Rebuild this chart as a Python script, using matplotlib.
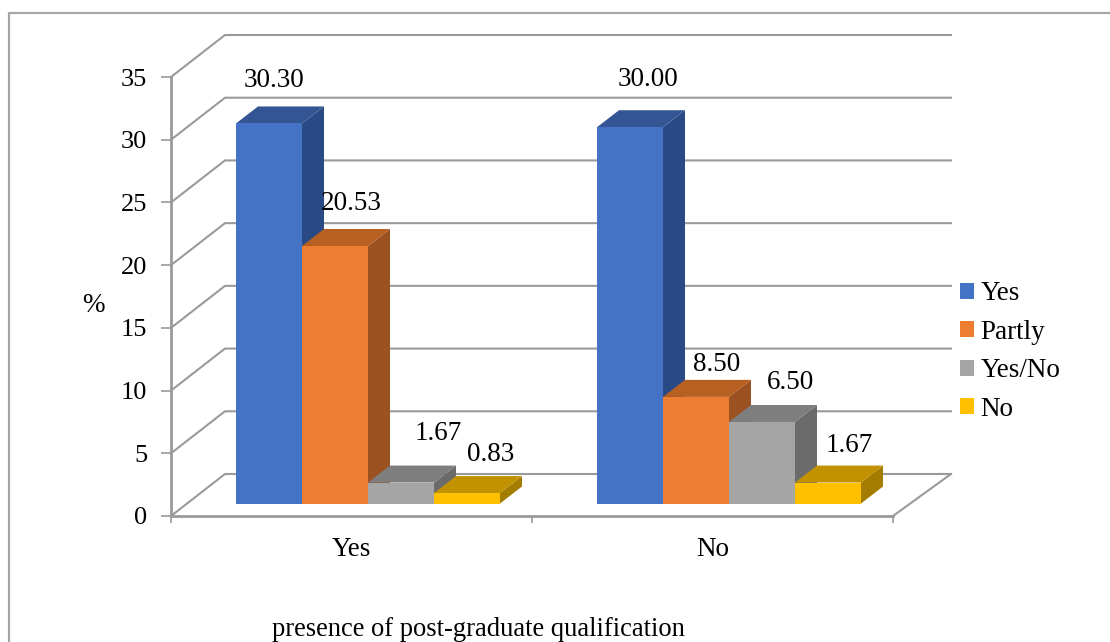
import matplotlib
matplotlib.use("Agg")
import matplotlib.pyplot as plt
from matplotlib.patches import Polygon
from matplotlib.transforms import Affine2D

categories = ["Yes", "No"]
series_names = ["Yes", "Partly", "Yes/No", "No"]
series_values = {
    "Yes": [30.30, 30.00],
    "Partly": [20.53, 8.50],
    "Yes/No": [1.67, 6.50],
    "No": [0.83, 1.67],
}
y_ticks = [0, 5, 10, 15, 20, 25, 30, 35]

front_colors = ["#4472C4", "#ED7D31", "#A5A5A5", "#FFC000"]
top_colors = ["#335593", "#B85F22", "#7E7E7E", "#C29200"]
side_colors = ["#2A4A85", "#9C5220", "#6B6B6B", "#A47C00"]

# Pixel offsets of the oblique projection
WALL_DX, WALL_DY = 54, 42
BAR_DX, BAR_DY = 16.5, 12.5
DEPTH_DX, DEPTH_DY = 22, 17
BAR_W = 66 / 361

# Label offsets from the top-centre of each bar's front face, in pixels
label_offsets = {
    "Yes": [(5, 43), (18, 48)],
    "Partly": [(16, 42), (21, 32)],
    "Yes/No": [(37, 49), (29, 39)],
    "No": [(24, 39), (21, 37)],
}

W, H = 1110, 642
GRID = "#9A9A9A"
FS = 19.5
plt.rcParams["font.family"] = ["Liberation Serif", "DejaVu Serif"]

fig = plt.figure(figsize=(W / 100, H / 100), dpi=100)
ax = fig.add_axes([171 / W, (H - 516) / H, (893 - 171) / W, (516 - 77) / H])
ax.set_xlim(0, 2)
ax.set_ylim(0, 35)
ax.patch.set_alpha(0)


def project(x, v, dx=0.0, dy=0.0):
    px, py = ax.transData.transform((x, v))
    return px + dx, py + dy


# Outer chart frame, running off the left-bottom and top-right of the canvas
fig.add_artist(plt.Line2D([9 / W, 9 / W, 1], [0, (H - 13) / H, (H - 13) / H],
                          color="#A6A6A6", lw=1.6))

# Back wall and side wall gridlines
for t in y_ticks:
    pts = [project(0, t), project(0, t, WALL_DX, WALL_DY), project(2, t, WALL_DX + 4, WALL_DY)]
    ax.plot(*zip(*pts), color=GRID, lw=1.5, transform=None, clip_on=False, zorder=1)
pts = [project(2, 0), project(2, 0, WALL_DX + 4, WALL_DY)]
ax.plot(*zip(*pts), color=GRID, lw=1.5, transform=None, clip_on=False, zorder=1)

for s in ("top", "right"):
    ax.spines[s].set_visible(False)
for s in ("left", "bottom"):
    ax.spines[s].set_color(GRID)
    ax.spines[s].set_linewidth(2)
ax.set_yticks(y_ticks)
ax.set_xticks([0, 1, 2])
ax.set_xticklabels([])
ax.set_xticks([0.5, 1.5], labels=categories, minor=True)
ax.tick_params(axis="y", length=7, width=1.2, color=GRID, labelsize=FS - 0.5, pad=10)
ax.tick_params(axis="x", which="major", length=5, width=1.2, color=GRID)
ax.tick_params(axis="x", which="minor", length=0, labelsize=FS, pad=15)
ax.set_ylabel("%", fontsize=FS, rotation=0, labelpad=0, va="center")
ax.yaxis.set_label_coords((93 - 171) / (893 - 171), (516 - 306) / (516 - 77))
ax.set_xlabel("presence of post-graduate qualification", fontsize=FS - 0.4, va="center")
ax.xaxis.set_label_coords((478 - 171) / (893 - 171), (516 - 629) / (516 - 77))

# Bars: front face through the data scale, depth faces projected from it
bar_shift = ax.transData + Affine2D().translate(BAR_DX, BAR_DY)
z = 3
for cat_i in range(len(categories)):
    for s_i, name in enumerate(series_names):
        v = series_values[name][cat_i]
        x0 = cat_i + 0.5 + (s_i - 2) * BAR_W
        x1 = x0 + BAR_W
        ox, oy = BAR_DX, BAR_DY
        ddx, ddy = ox + DEPTH_DX, oy + DEPTH_DY
        side = [project(x1, 0, ox, oy), project(x1, v, ox, oy),
                project(x1, v, ddx, ddy), project(x1, 0, ddx, ddy)]
        top = [project(x0, v, ox, oy), project(x1, v, ox, oy),
               project(x1, v, ddx, ddy), project(x0, v, ddx, ddy)]
        ax.add_patch(Polygon(side, closed=True, fc=side_colors[s_i], ec="none",
                             transform=None, clip_on=False, zorder=z))
        ax.add_patch(Polygon(top, closed=True, fc=top_colors[s_i], ec="none",
                             transform=None, clip_on=False, zorder=z))
        ax.bar(x0, v, width=BAR_W, align="edge", color=front_colors[s_i],
               transform=bar_shift, clip_on=False, zorder=z + 0.5,
               label=name if cat_i == 0 else None)
        z += 1

# Value labels above the bars
for cat_i in range(len(categories)):
    for s_i, name in enumerate(series_names):
        v = series_values[name][cat_i]
        xc = cat_i + 0.5 + (s_i - 1.5) * BAR_W
        off = label_offsets[name][cat_i]
        px, py = project(xc, v, BAR_DX + off[0], BAR_DY + off[1])
        ax.text(px, py, f"{v:.2f}", transform=None, fontsize=FS, ha="center",
                va="center", color="black", clip_on=False, zorder=50)

ax.set_xlim(0, 2)
ax.set_ylim(0, 35)

ax.legend(loc="upper left", bbox_to_anchor=(952 / W, (H - 273) / H),
          bbox_transform=fig.transFigure, frameon=False, fontsize=FS,
          handlelength=0.53, handleheight=0.53, handletextpad=0.22,
          labelspacing=0.5, borderpad=0.3, borderaxespad=0)

fig.savefig("out.png", dpi=100)
